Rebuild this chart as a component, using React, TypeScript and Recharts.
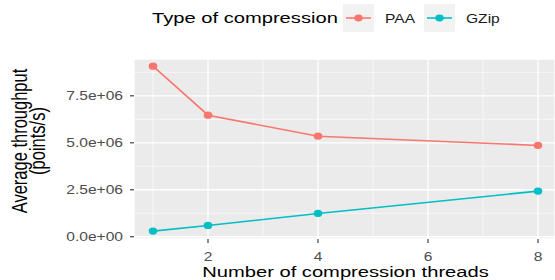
import React from "react";
import { LineChart, Line, XAxis, YAxis, CartesianGrid, Legend } from "recharts";

const threads = [1, 2, 4, 8];
const paaValues = [9.08e6, 6.47e6, 5.35e6, 4.86e6];
const gzipValues = [0.3e6, 0.6e6, 1.24e6, 2.43e6];
const seriesNames = ["PAA", "GZip"];
const seriesColors = ["#F8766D", "#00BFC4"];
const xTicks = [2, 4, 6, 8];
const xMinorTicks = [1, 3, 5, 7];
const yTicks = [0, 2.5e6, 5e6, 7.5e6];
const yTickLabels = ["0.0e+00", "2.5e+06", "5.0e+06", "7.5e+06"];
const yMinorTicks = [1.25e6, 3.75e6, 6.25e6, 8.75e6];
const legendTitle = "Type of compression";
const xTitle = "Number of compression threads";
const yTitleLines = ["Average throughput", "(points/s)"];

const data = threads.map((t, i) => ({
  threads: t,
  [seriesNames[0]]: paaValues[i],
  [seriesNames[1]]: gzipValues[i],
}));

const FONT = "'Liberation Sans', Arial, Helvetica, sans-serif";
const SX = 1.3;

function SText({ x, y, anchor = "start", size, fill, children }: any) {
  return (
    <text
      transform={`translate(${x},${y}) scale(${SX},1)`}
      x={0}
      y={0}
      textAnchor={anchor}
      fontFamily={FONT}
      fontSize={size}
      fill={fill}
    >
      {children}
    </text>
  );
}

function VText({ x, y, size, fill, children }: any) {
  return (
    <text
      transform={`translate(${x},${y}) rotate(-90) scale(1,${SX})`}
      x={0}
      y={0}
      textAnchor="middle"
      fontFamily={FONT}
      fontSize={size}
      fill={fill}
    >
      {children}
    </text>
  );
}

const YTick = (props: any) => {
  const { x, y, payload } = props;
  const idx = yTicks.indexOf(payload.value);
  const label = idx >= 0 ? yTickLabels[idx] : String(payload.value);
  return (
    <SText x={x} y={y + 4.3} anchor="end" size={12} fill="#4D4D4D">
      {label}
    </SText>
  );
};

const XTick = (props: any) => {
  const { x, payload } = props;
  return (
    <SText x={x} y={260.5} anchor="middle" size={12} fill="#4D4D4D">
      {String(payload.value)}
    </SText>
  );
};

const XTitle = (props: any) => {
  const vb = props.viewBox || {};
  const cx = vb.x + vb.width / 2;
  return (
    <SText x={cx + 1} y={277} anchor="middle" size={15.5} fill="#000">
      {xTitle}
    </SText>
  );
};

const YTitle = (props: any) => {
  const vb = props.viewBox || {};
  const cy = (vb.y ?? 59) + (vb.height ?? 180) / 2 - 8;
  return (
    <g className="y-title">
      <VText key="l1" x={27} y={cy} size={16.5} fill="#000">
        {yTitleLines[0]}
      </VText>
      <VText key="l2" x={45} y={cy} size={16.5} fill="#000">
        {yTitleLines[1]}
      </VText>
    </g>
  );
};

const renderLegend = (props: any) => {
  const payload = props.payload || [];
  const keyX = [343, 424];
  const items = seriesNames.map((n, i) => {
    const found = payload.find((p: any) => p.value === n);
    return { value: n, color: found ? found.color : seriesColors[i] };
  });
  return (
    <svg width={555} height={36} style={{ display: "block" }}>
      <SText x={152} y={23} size={15.5} fill="#000">
        {legendTitle}
      </SText>
      {items.map((p: any, i: number) => (
        <g key={p.value}>
          <rect x={keyX[i]} y={4} width={31} height={28} fill="#F2F2F2" />
          <line
            x1={keyX[i] + 3}
            x2={keyX[i] + 28}
            y1={18}
            y2={18}
            stroke={p.color}
            strokeWidth={1.6}
          />
          <ellipse cx={keyX[i] + 15.5} cy={18} rx={4.2} ry={3.4} fill={p.color} />
          <SText x={keyX[i] + 42} y={22.5} size={12} fill="#1A1A1A">
            {p.value}
          </SText>
        </g>
      ))}
    </svg>
  );
};

const makeDot = (color: string) => (p: any) => (
  <ellipse
    key={`d-${color}-${p.index}`}
    cx={p.cx}
    cy={p.cy}
    rx={4.3}
    ry={3.6}
    fill={color}
  />
);

export default function App() {
  return (
    <div style={{ position: "absolute", left: 0, top: 0, width: 555, height: 280, background: "#fff" }}>
      <LineChart
        width={555}
        height={280}
        data={data}
        margin={{ top: 59, right: 0, bottom: 0, left: 0 }}
      >
        <CartesianGrid
          fill="#EBEBEB"
          stroke="#FFFFFF"
          strokeWidth={0.6}
          horizontalValues={yMinorTicks}
          verticalValues={xMinorTicks}
        />
        <CartesianGrid fill="none" stroke="#FFFFFF" strokeWidth={1.3} />
        <XAxis
          dataKey="threads"
          type="number"
          domain={[0.6545, 8.309]}
          ticks={xTicks}
          allowDataOverflow
          height={41}
          axisLine={false}
          tickSize={4}
          tickLine={{ stroke: "#333333", strokeWidth: 1.1 }}
          tick={<XTick />}
          label={{ content: <XTitle /> }}
        />
        <YAxis
          type="number"
          domain={[-0.12e6, 9.46e6]}
          ticks={yTicks}
          allowDataOverflow
          width={134}
          axisLine={false}
          tickSize={4}
          tickMargin={7}
          tickLine={{ stroke: "#333333", strokeWidth: 1.1 }}
          tick={<YTick />}
          label={{ content: <YTitle /> }}
        />
        <Legend
          verticalAlign="middle"
          layout="horizontal"
          wrapperStyle={{ position: "absolute", top: 0, left: 0, width: 555, height: 36 }}
          content={renderLegend}
        />
        {seriesNames.map((name, i) => (
          <Line
            key={name}
            type="linear"
            dataKey={name}
            name={name}
            stroke={seriesColors[i]}
            strokeWidth={1.6}
            dot={makeDot(seriesColors[i])}
            activeDot={false}
            isAnimationActive={false}
          />
        ))}
      </LineChart>
    </div>
  );
}
